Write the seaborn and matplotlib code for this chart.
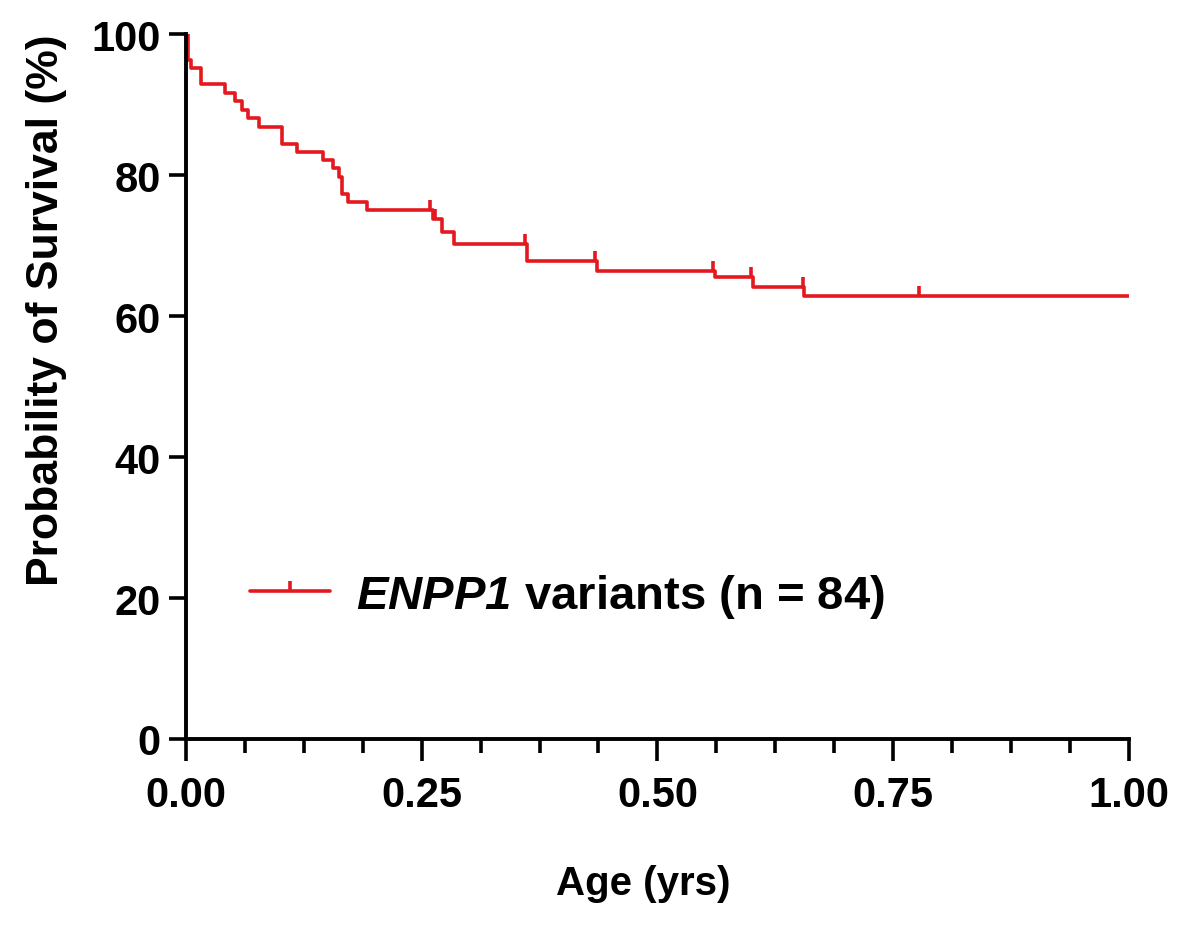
import matplotlib
matplotlib.use('Agg')
from matplotlib import pyplot as plt
from matplotlib.lines import Line2D
from matplotlib.ticker import MultipleLocator
import numpy as np
import pandas as pd
import seaborn as sns


RED = '#e3191f'

# Kaplan-Meier steps: time of event (yrs), survival after it (%)
step_time = [0.0, 0.002, 0.005, 0.016, 0.041, 0.052, 0.059, 0.066, 0.078, 0.102,
             0.118, 0.145, 0.156, 0.162, 0.166, 0.172, 0.192, 0.262, 0.272, 0.284,
             0.362, 0.436, 0.561, 0.601, 0.656, 1.0]
step_surv = [100.0, 96.4, 95.2, 92.9, 91.7, 90.5, 89.3, 88.1, 86.9, 84.5,
             83.3, 82.1, 81.0, 79.8, 77.4, 76.2, 75.0, 73.8, 72.0, 70.2,
             67.8, 66.4, 65.5, 64.1, 62.8, 62.8]
censor_time = [0.259, 0.264, 0.360, 0.434, 0.559, 0.599, 0.654, 0.777]

x_ticks = [0.0, 0.25, 0.5, 0.75, 1.0]
y_ticks = [0, 20, 40, 60, 80, 100]

sns.set_style('ticks')
plt.rcParams['font.family'] = ['Liberation Sans', 'DejaVu Sans']
plt.rcParams['font.weight'] = 'bold'
plt.rcParams['mathtext.fontset'] = 'custom'
plt.rcParams['mathtext.bfit'] = 'Liberation Sans:italic:bold'

curve = pd.DataFrame({'time': step_time, 'surv': step_surv})
idx = np.searchsorted(step_time, censor_time, side='right') - 1
censors = pd.DataFrame({'time': censor_time, 'surv': np.array(step_surv)[idx]})

fig = plt.figure(figsize=(11.92, 9.29), dpi=100)
ax = fig.add_axes([0.156, 0.2035, 0.791, 0.7585])

sns.lineplot(data=curve, x='time', y='surv', drawstyle='steps-post',
             color=RED, linewidth=2.6, ax=ax)
sns.scatterplot(data=censors, x='time', y='surv', marker=2, s=55,
                color=RED, linewidth=2.6, ax=ax, zorder=3)

ax.set_xlim(0, 1.0)
ax.set_ylim(0, 100)
ax.set_xticks(x_ticks)
ax.set_xticklabels([f'{t:.2f}' for t in x_ticks])
ax.set_yticks(y_ticks)
ax.xaxis.set_minor_locator(MultipleLocator(0.0625))
ax.tick_params(axis='both', which='major', labelsize=30, width=2.6, colors='black')
ax.tick_params(axis='x', which='major', length=16, pad=10)
ax.tick_params(axis='x', which='minor', length=10, width=2.6, colors='black')
ax.tick_params(axis='y', which='major', length=12, pad=6)
for lab in ax.get_xticklabels() + ax.get_yticklabels():
    lab.set_fontweight('bold')

for side in ['top', 'right']:
    ax.spines[side].set_visible(False)
for side in ['left', 'bottom']:
    ax.spines[side].set_linewidth(2.8)
    ax.spines[side].set_color('black')

ax.set_xlabel('Age (yrs)', fontsize=29, fontweight='bold', color='black')
ax.set_ylabel('Probability of Survival (%)', fontsize=32, fontweight='bold',
              color='black')
ax.xaxis.set_label_coords(0.485, -0.178)
ax.yaxis.set_label_coords(-0.126, 0.61)

handle = Line2D([], [], color=RED, linewidth=2.6, marker=2, markersize=7.5,
                markeredgewidth=2.6)
leg = ax.legend(handles=[handle], labels=[r'$\mathbfit{ENPP1}$ variants (n = 84)'],
                loc='center left', bbox_to_anchor=(0.068, 0.203), frameon=False,
                borderaxespad=0, borderpad=0, handlelength=1.7, handletextpad=0.55,
                prop={'size': 34, 'weight': 'bold'})
for t in leg.get_texts():
    t.set_color('black')

fig.savefig('out.png', dpi=100)
